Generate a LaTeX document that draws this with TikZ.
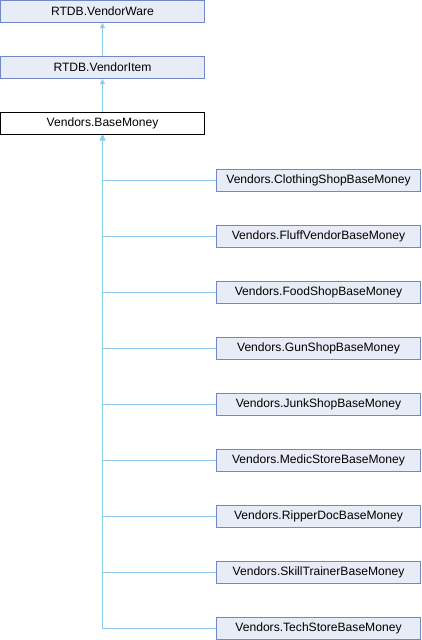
\documentclass[tikz,border=0pt]{standalone}
\usepackage{fontspec}
\setmainfont{Liberation Sans}
\usepackage{tikz}
\usetikzlibrary{arrows.meta}
\definecolor{clsfill}{HTML}{E8ECF6}
\definecolor{clsdraw}{HTML}{7088C6}
\definecolor{edgeblue}{HTML}{8FCBEC}
\tikzstyle{cls} = [rectangle, draw=clsdraw, fill=clsfill, line width=1pt, minimum width=204pt, minimum height=22pt, inner sep=0pt, font=\fontsize{12.1}{14}\selectfont]
\tikzstyle{cls_main} = [cls, draw=black, fill=white]
\tikzstyle{arrow} = [draw=edgeblue, line width=1pt, -{Triangle[length=5pt,width=5pt,fill=edgeblue]}]

\begin{document}
\begin{tikzpicture}[x=1pt, y=1pt]
        \useasboundingbox (0,0) rectangle (422,-640);
        % base classes
        \node (vendorware) [cls] at (102.5,-11.5) {RTDB.VendorWare};
        \node (vendoritem) [cls, below of=vendorware, node distance=56pt] {RTDB.VendorItem};
        \node (basemoney) [cls_main, below of=vendoritem, node distance=56pt] {Vendors.BaseMoney};

        % derived classes
        \node (clothing) [cls, below of=basemoney, node distance=57pt, xshift=216pt] {Vendors.ClothingShopBaseMoney};
        \node (fluff) [cls, below of=clothing, node distance=56pt] {Vendors.FluffVendorBaseMoney};
        \node (food) [cls, below of=fluff, node distance=56pt] {Vendors.FoodShopBaseMoney};
        \node (gun) [cls, below of=food, node distance=56pt] {Vendors.GunShopBaseMoney};
        \node (junk) [cls, below of=gun, node distance=56pt] {Vendors.JunkShopBaseMoney};
        \node (medic) [cls, below of=junk, node distance=56pt] {Vendors.MedicStoreBaseMoney};
        \node (ripper) [cls, below of=medic, node distance=56pt] {Vendors.RipperDocBaseMoney};
        \node (skill) [cls, below of=ripper, node distance=56pt] {Vendors.SkillTrainerBaseMoney};
        \node (tech) [cls, below of=skill, node distance=56pt] {Vendors.TechStoreBaseMoney};

        \draw [arrow] (vendoritem) -- (vendorware);
        \draw [arrow] (basemoney) -- (vendoritem);
        \foreach \n in {clothing, fluff, food, gun, junk, medic, ripper, skill, tech}
            \draw [arrow] (\n.west) -| (basemoney.south);

    \end{tikzpicture}
\end{document}
